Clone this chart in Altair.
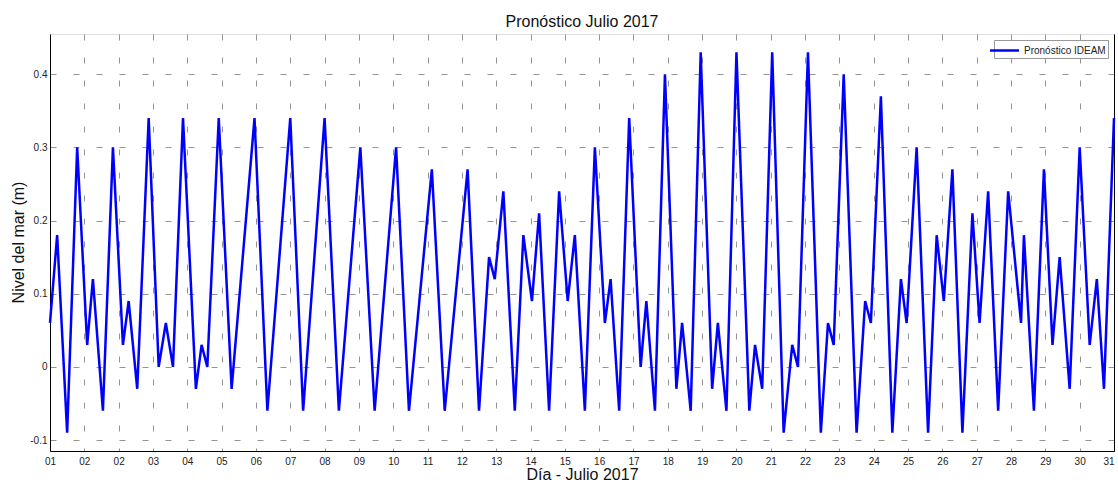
import altair as alt
import pandas as pd

# Hours since 1 July 2017 00:00 of each high / low water, and the sea level (m)
horas = [0, 5, 12, 19, 26, 30, 37, 44, 51, 55, 61, 69, 76, 81, 86, 93, 102, 106, 110, 118,
         127, 143, 152, 168, 177, 192, 202, 217, 227, 242, 251, 267, 276, 292, 300, 307, 311,
         317, 325, 331, 337, 342, 349, 356, 362, 367, 374, 381, 388, 392, 398, 405, 413, 417,
         423, 430, 438, 442, 448, 455, 463, 467, 473, 480, 489, 493, 498, 505, 513, 519, 523,
         530, 539, 544, 548, 555, 564, 570, 574, 581, 589, 595, 599, 606, 614, 620, 625, 631,
         638, 645, 650, 656, 663, 670, 679, 681, 688, 695, 701, 706, 713, 720, 727, 732, 737, 744]
nivel = [0.06, 0.18, -0.09, 0.30, 0.03, 0.12, -0.06, 0.30, 0.03, 0.09, -0.03, 0.34, 0.00, 0.06,
         0.00, 0.34, -0.03, 0.03, 0.00, 0.34, -0.03, 0.34, -0.06, 0.34, -0.06, 0.34, -0.06, 0.30,
         -0.06, 0.30, -0.06, 0.27, -0.06, 0.27, -0.06, 0.15, 0.12, 0.24, -0.06, 0.18, 0.09, 0.21,
         -0.06, 0.24, 0.09, 0.18, -0.06, 0.30, 0.06, 0.12, -0.06, 0.34, 0.00, 0.09, -0.06, 0.40,
         -0.03, 0.06, -0.06, 0.43, -0.03, 0.06, -0.06, 0.43, -0.06, 0.03, -0.03, 0.43, -0.09, 0.03,
         0.00, 0.43, -0.09, 0.06, 0.03, 0.40, -0.09, 0.09, 0.06, 0.37, -0.09, 0.12, 0.06, 0.30,
         -0.09, 0.18, 0.09, 0.27, -0.09, 0.21, 0.06, 0.24, -0.06, 0.24, 0.06, 0.18, -0.06, 0.27,
         0.03, 0.15, -0.03, 0.30, 0.03, 0.12, -0.03, 0.34]

etiquetas_x = ['01', '02', '02', '03', '04', '05', '06', '07', '08', '09', '10', '11', '12', '13',
               '14', '15', '16', '17', '18', '19', '20', '21', '22', '23', '24', '25', '26', '27',
               '28', '29', '30', '31']
ticks_y = [-0.1, 0.0, 0.1, 0.2, 0.3, 0.4]
serie = 'Pronóstico IDEAM'

df = pd.DataFrame({'hora': horas, 'nivel': nivel, 'serie': [serie] * len(horas)})

tick_vals = [24 * i for i in range(len(etiquetas_x))]
label_expr = "[" + ",".join("'%s'" % s for s in etiquetas_x) + "][round(datum.value/24)]"

FONT = 'Liberation Sans'
xscale = alt.Scale(domain=[0, 744], nice=False, zero=False)
yscale = alt.Scale(domain=[-0.115, 0.455], nice=False, zero=False)

grid_kw = dict(grid=True, gridDash=[6, 17], gridColor='#707070', gridWidth=1, gridOpacity=0.75)

line = alt.Chart(df).mark_line(strokeWidth=2.5, strokeJoin='miter').encode(
    x=alt.X('hora:Q', scale=xscale,
            axis=alt.Axis(values=tick_vals, labelExpr=label_expr, title='Día - Julio 2017',
                          ticks=False, labelPadding=5, labelFontSize=10, labelFont=FONT,
                          labelColor='#222222', titleFont=FONT, titleFontSize=16,
                          titleFontWeight='normal', titleColor='#111111',
                          titleX=532, titleY=28, titleBaseline='alphabetic', titleAlign='center',
                          domainColor='#000000', domainWidth=1, labelFlush=False,
                          labelAlign={'condition': {'test': 'datum.value >= 744',
                                                    'value': 'right'},
                                      'value': 'center'},
                          labelOverlap=False, labelBound=False, labelSeparation=0,
                          **grid_kw)),
    y=alt.Y('nivel:Q', scale=yscale,
            axis=alt.Axis(values=ticks_y, labelExpr="toString(round(datum.value*10)/10)",
                          title='Nivel del mar (m)', ticks=False, labelPadding=3,
                          labelFontSize=10, labelFont=FONT, labelColor='#222222',
                          titleFont=FONT, titleFontSize=16, titleFontWeight='normal',
                          titleColor='#111111', titleX=-27, titleY=208,
                          titleBaseline='alphabetic', titleAlign='center', titleAngle=270,
                          domainColor='#000000', domainWidth=1, labelFlush=False,
                          labelOverlap=False, **grid_kw)),
    color=alt.Color('serie:N',
                    scale=alt.Scale(domain=[serie], range=['#0000ff']),
                    legend=alt.Legend(title=None, orient='none', legendX=944, legendY=6,
                                      symbolType='M-2,0H2', symbolSize=210,
                                      symbolStrokeWidth=2.5, labelFontSize=10, labelFont=FONT,
                                      labelColor='#222222', labelOffset=11, padding=2,
                                      strokeColor='#999999', fillColor='white',
                                      cornerRadius=0)),
)

right_axis = alt.Chart(df).mark_line(opacity=0).encode(
    x=alt.X('hora:Q', scale=xscale, axis=None),
    y=alt.Y('nivel:Q', scale=yscale,
            axis=alt.Axis(orient='right', labels=False, ticks=False, title=None, grid=False,
                          domainColor='#000000', domainWidth=1)),
)

chart = alt.layer(line, right_axis).resolve_axis(x='independent', y='independent').properties(
    width=1064, height=417,
    title=alt.TitleParams('Pronóstico Julio 2017', font=FONT, fontSize=16,
                          fontWeight='normal', color='#111111', anchor='middle',
                          baseline='bottom', offset=5, frame='group', dy=17),
    autosize=alt.AutoSizeParams(type='none'),
    padding={'left': 50, 'top': 34, 'right': 4, 'bottom': 31},
).configure_view(stroke=None).configure(background='white')

chart.save('out.html', embed_options={'renderer': 'svg', 'actions': False})
